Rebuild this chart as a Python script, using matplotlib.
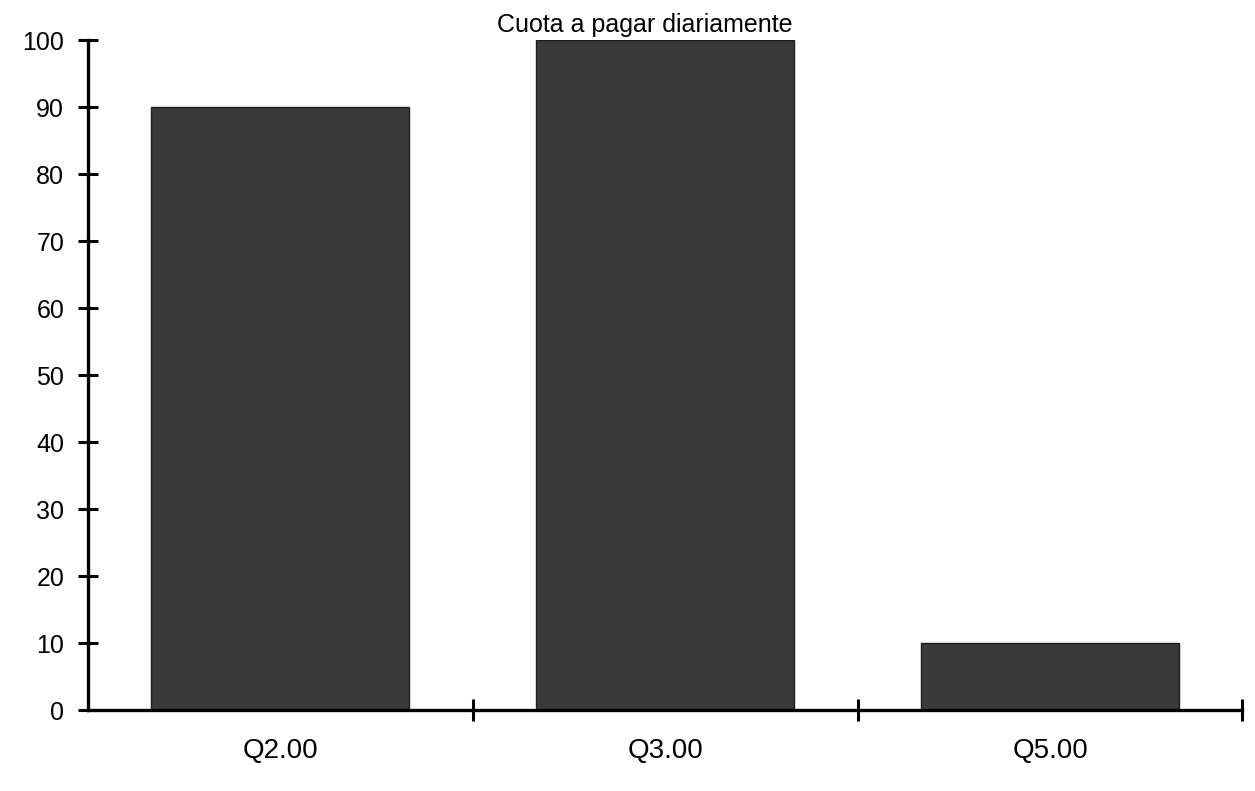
import matplotlib
matplotlib.use("Agg")
import matplotlib.pyplot as plt
import numpy as np

plt.rcParams["font.family"] = ["Liberation Sans", "DejaVu Sans"]

categories = ["Q2.00", "Q3.00", "Q5.00"]
values = [90, 100, 10]
y_ticks = [0, 10, 20, 30, 40, 50, 60, 70, 80, 90, 100]

fig = plt.figure(figsize=(12.55, 7.91), dpi=100)
ax = fig.add_axes([0.070, 0.102, 0.920, 0.847])

x = np.arange(len(categories))
ax.bar(x, values, width=0.67, color="#3a3a3a", edgecolor="#1e1e1e", linewidth=1)

ax.set_xlim(-0.5, len(categories) - 0.5)
ax.set_ylim(0, 100)

# category ticks sit between the bars; labels go on minor ticks at the centres
ax.set_xticks(np.arange(len(categories)) + 0.5)
ax.set_xticklabels([])
ax.set_xticks(x, minor=True)
ax.set_xticklabels(categories, minor=True)
ax.tick_params(axis="x", which="major", direction="inout", length=16, width=2.2)
ax.tick_params(axis="x", which="minor", length=0, pad=20, labelsize=20)

ax.set_yticks(y_ticks)
ax.set_yticklabels([str(t) for t in y_ticks])
ax.tick_params(axis="y", direction="inout", length=14, width=2.2, labelsize=18, pad=10)

for side in ("top", "right"):
    ax.spines[side].set_visible(False)
for side in ("left", "bottom"):
    ax.spines[side].set_linewidth(2.4)
ax.spines["bottom"].set_bounds(-0.5, len(categories) - 0.5)
ax.spines["bottom"].set_zorder(5)
ax.patch.set_alpha(0)

ax.set_title("Cuota a pagar diariamente", fontsize=18, x=0.482, pad=6)

fig.savefig("out.png", dpi=100)
